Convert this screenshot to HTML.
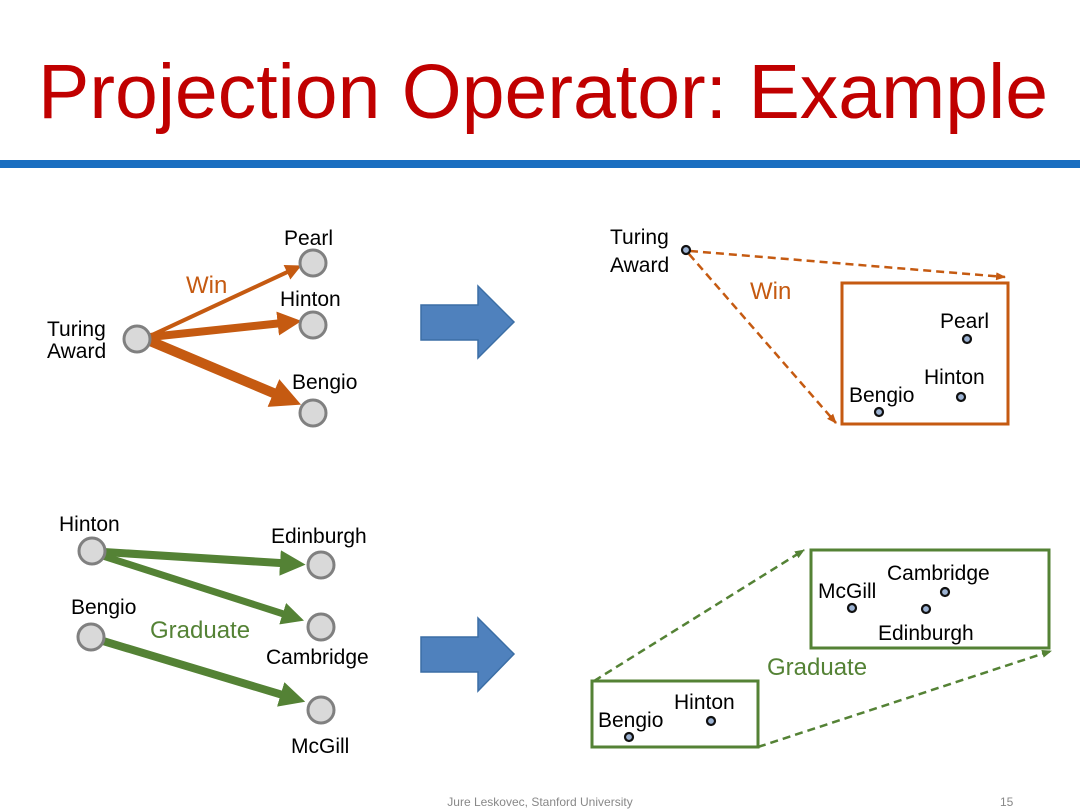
<!DOCTYPE html>
<html><head><meta charset="utf-8"><style>
html,body{margin:0;padding:0;background:#fff;}
svg{display:block;font-family:"Liberation Sans",Arial,sans-serif;}
</style></head><body>
<svg width="1080" height="810" viewBox="0 0 1080 810" xmlns="http://www.w3.org/2000/svg">
<defs>
<marker id="ao" markerWidth="4" markerHeight="4" refX="2.5" refY="2" orient="auto" markerUnits="strokeWidth"><path d="M0,0 L4,2 L0,4 z" fill="#c55a11"/></marker>
<marker id="ao2" markerWidth="3" markerHeight="3" refX="1.8" refY="1.5" orient="auto" markerUnits="strokeWidth"><path d="M0,0 L3,1.5 L0,3 z" fill="#c55a11"/></marker>
<marker id="ag" markerWidth="3.2" markerHeight="3.2" refX="2" refY="1.6" orient="auto" markerUnits="strokeWidth"><path d="M0,0 L3.2,1.6 L0,3.2 z" fill="#548235"/></marker>
<marker id="dao" markerWidth="10" markerHeight="8" refX="9" refY="4" orient="auto" markerUnits="userSpaceOnUse"><path d="M0,0 L10,4 L0,8 z" fill="#c55a11"/></marker>
<marker id="dag" markerWidth="10" markerHeight="8" refX="9" refY="4" orient="auto" markerUnits="userSpaceOnUse"><path d="M0,0 L10,4 L0,8 z" fill="#548235"/></marker>
</defs>
<text x="38" y="118" font-size="77" fill="#c00000">Projection Operator: Example</text>
<rect x="0" y="160" width="1080" height="8" fill="#1a6ec0"/>

<!-- top left -->
<g stroke="#c55a11" fill="none">
<line x1="150" y1="336" x2="296" y2="268" stroke-width="4" marker-end="url(#ao)"/>
<line x1="150" y1="337" x2="292" y2="322" stroke-width="8" marker-end="url(#ao2)"/>
<line x1="150" y1="341" x2="290" y2="400" stroke-width="10" marker-end="url(#ao2)"/>
</g>
<g fill="#d9d9d9" stroke="#808080" stroke-width="3">
<circle cx="137" cy="339" r="13"/><circle cx="313" cy="263" r="13"/><circle cx="313" cy="325" r="13"/><circle cx="313" cy="413" r="13"/>
</g>
<g font-size="21" fill="#000">
<text x="284" y="245">Pearl</text><text x="280" y="306">Hinton</text><text x="292" y="389">Bengio</text>
<text x="47" y="336">Turing</text><text x="47" y="358">Award</text>
</g>
<text x="186" y="293" font-size="24" fill="#c55a11">Win</text>

<!-- blue arrows -->
<g fill="#4f81bd" stroke="#3b6ea5" stroke-width="1.5">
<path d="M421,305 L478,305 L478,286 L514,322 L478,358 L478,340 L421,340 z"/>
<path d="M421,637 L478,637 L478,618 L514,654 L478,691 L478,672 L421,672 z"/>
</g>

<!-- top right -->
<g stroke="#c55a11" stroke-width="2.5" stroke-dasharray="8,5" fill="none">
<line x1="690" y1="251" x2="1005" y2="277" marker-end="url(#dao)"/>
<line x1="689" y1="254" x2="836" y2="423" marker-end="url(#dao)"/>
</g>
<rect x="842" y="283" width="166" height="141" fill="none" stroke="#c55a11" stroke-width="3"/>
<text x="750" y="299" font-size="24" fill="#c55a11">Win</text>
<g font-size="21" fill="#000">
<text x="610" y="244">Turing</text><text x="610" y="272">Award</text>
<text x="940" y="328">Pearl</text><text x="924" y="384">Hinton</text><text x="849" y="402">Bengio</text>
</g>
<g fill="#9db3d3" stroke="#111" stroke-width="2.2">
<circle cx="686" cy="250" r="4"/><circle cx="967" cy="339" r="4"/><circle cx="961" cy="397" r="4"/><circle cx="879" cy="412" r="4"/>
</g>

<!-- bottom left -->
<g stroke="#548235" fill="none">
<line x1="104" y1="552" x2="296" y2="564" stroke-width="8" marker-end="url(#ag)"/>
<line x1="103" y1="556" x2="296" y2="618" stroke-width="7" marker-end="url(#ag)"/>
<line x1="103" y1="641" x2="296" y2="699" stroke-width="8" marker-end="url(#ag)"/>
</g>
<g fill="#d9d9d9" stroke="#808080" stroke-width="3">
<circle cx="92" cy="551" r="13"/><circle cx="91" cy="637" r="13"/><circle cx="321" cy="565" r="13"/><circle cx="321" cy="627" r="13"/><circle cx="321" cy="710" r="13"/>
</g>
<g font-size="21" fill="#000">
<text x="59" y="531">Hinton</text><text x="271" y="543">Edinburgh</text><text x="71" y="614">Bengio</text>
<text x="266" y="664">Cambridge</text><text x="291" y="753">McGill</text>
</g>
<text x="150" y="638" font-size="24" fill="#548235">Graduate</text>

<!-- bottom right -->
<g stroke="#548235" stroke-width="2.5" stroke-dasharray="8,5" fill="none">
<line x1="594" y1="681" x2="804" y2="550" marker-end="url(#dag)"/>
<line x1="758" y1="747" x2="1051" y2="651" marker-end="url(#dag)"/>
</g>
<rect x="592" y="681" width="166" height="66" fill="none" stroke="#548235" stroke-width="3"/>
<rect x="811" y="550" width="238" height="98" fill="none" stroke="#548235" stroke-width="3"/>
<text x="767" y="675" font-size="24" fill="#548235">Graduate</text>
<g font-size="21" fill="#000">
<text x="598" y="727">Bengio</text><text x="674" y="709">Hinton</text>
<text x="818" y="598">McGill</text><text x="887" y="580">Cambridge</text><text x="878" y="640">Edinburgh</text>
</g>
<g fill="#9db3d3" stroke="#111" stroke-width="2.2">
<circle cx="629" cy="737" r="4"/><circle cx="711" cy="721" r="4"/><circle cx="852" cy="608" r="4"/><circle cx="926" cy="609" r="4"/><circle cx="945" cy="592" r="4"/>
</g>

<text x="540" y="806" font-size="12" fill="#888" text-anchor="middle">Jure Leskovec, Stanford University</text>
<text x="1000" y="806" font-size="12" fill="#888">15</text>
</svg>
</body></html>
